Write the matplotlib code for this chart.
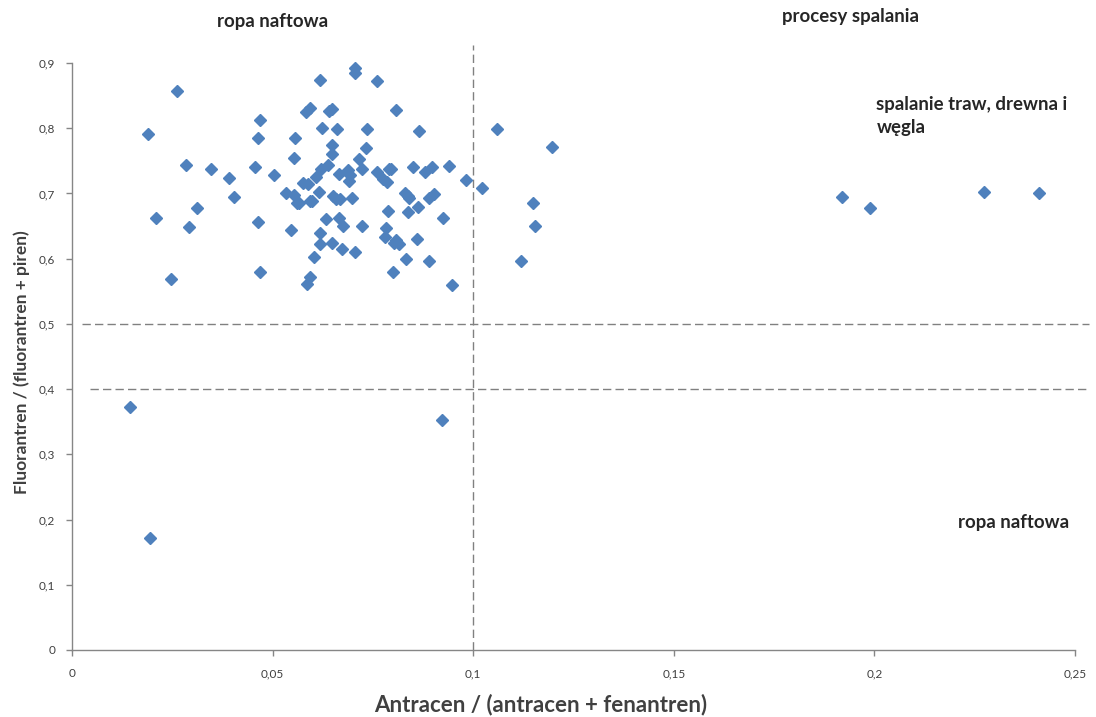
import numpy as np
import matplotlib.pyplot as plt
from matplotlib.ticker import FixedLocator

# Antracen / (antracen + fenantren)
ant_ratio = [
    0.0617, 0.0262, 0.0190, 0.0592, 0.0584, 0.0640, 0.0647, 0.0468, 0.0622, 0.0464,
    0.0556, 0.0285, 0.0346, 0.0455, 0.0553, 0.0391, 0.0503, 0.0621, 0.0609, 0.0577,
    0.0588, 0.0615, 0.0403, 0.0534, 0.0553, 0.0567, 0.0592, 0.0599, 0.0561, 0.0311,
    0.0209, 0.0292, 0.0464, 0.0545, 0.0632, 0.0619, 0.0618, 0.0603, 0.0246, 0.0468,
    0.0592, 0.0585, 0.0706, 0.0706, 0.0760, 0.0808, 0.0661, 0.0736, 0.0866, 0.1059,
    0.0648, 0.0647, 0.0734, 0.0715, 0.0639, 0.0665, 0.0689, 0.0692, 0.0690, 0.0722,
    0.0760, 0.0774, 0.0784, 0.0791, 0.0795, 0.0850, 0.0881, 0.0897, 0.0940, 0.0982,
    0.1022, 0.0650, 0.0658, 0.0667, 0.0698, 0.0829, 0.0837, 0.0841, 0.0891, 0.0903,
    0.0665, 0.0675, 0.0722, 0.0788, 0.0838, 0.0862, 0.0924, 0.0783, 0.0779, 0.0808,
    0.0802, 0.0816, 0.0861, 0.0647, 0.0672, 0.0706, 0.0833, 0.0891, 0.0799, 0.0946,
    0.1197, 0.1148, 0.1154, 0.1119, 0.1920, 0.1990, 0.2274, 0.2410, 0.0144, 0.0194,
    0.0923,
]
# Fluorantren / (fluorantren + piren)
flu_ratio = [
    0.874, 0.857, 0.791, 0.831, 0.825, 0.826, 0.830, 0.813, 0.801, 0.785,
    0.785, 0.743, 0.738, 0.741, 0.754, 0.723, 0.729, 0.738, 0.725, 0.716,
    0.715, 0.702, 0.694, 0.700, 0.698, 0.685, 0.688, 0.688, 0.685, 0.677,
    0.663, 0.648, 0.656, 0.644, 0.661, 0.639, 0.622, 0.602, 0.569, 0.579,
    0.572, 0.561, 0.893, 0.884, 0.873, 0.828, 0.799, 0.799, 0.796, 0.799,
    0.774, 0.761, 0.770, 0.753, 0.744, 0.730, 0.736, 0.729, 0.719, 0.738,
    0.733, 0.722, 0.718, 0.738, 0.737, 0.741, 0.733, 0.741, 0.742, 0.720,
    0.708, 0.696, 0.692, 0.692, 0.693, 0.700, 0.696, 0.693, 0.693, 0.699,
    0.662, 0.650, 0.650, 0.673, 0.671, 0.679, 0.662, 0.647, 0.633, 0.629,
    0.624, 0.623, 0.630, 0.624, 0.615, 0.610, 0.599, 0.596, 0.579, 0.560,
    0.771, 0.685, 0.650, 0.597, 0.695, 0.678, 0.702, 0.701, 0.373, 0.172,
    0.353,
]

x_ticks = [0, 0.05, 0.1, 0.15, 0.2, 0.25]
x_tick_labels = ["0", "0,05", "0,1", "0,15", "0,2", "0,25"]
y_ticks = [0, 0.1, 0.2, 0.3, 0.4, 0.5, 0.6, 0.7, 0.8, 0.9]
y_tick_labels = ["0", "0,1", "0,2", "0,3", "0,4", "0,5", "0,6", "0,7", "0,8", "0,9"]

plt.rcParams['font.family'] = ['Lato', 'DejaVu Sans']

W, H = 1096, 717
fig = plt.figure(figsize=(W / 100, H / 100), dpi=100)
ax = fig.add_axes([72/W, 1 - 650/H, (1075 - 72)/W, (650 - 63)/H])

grey = "#868686"
dash = "#808080"

# dividing lines (drawn like shapes, partly outside the plot area)
ax.plot([0.1, 0.1], [0, 0.928], color=dash, lw=1, ls=(0, (6, 3)), clip_on=False, zorder=1)
ax.plot([0.0025, 0.2535], [0.5, 0.5], color=dash, lw=1, ls=(0, (6, 3)), clip_on=False, zorder=1)
ax.plot([0.0045, 0.2535], [0.4, 0.4], color=dash, lw=1, ls=(0, (6, 3)), clip_on=False, zorder=1)

ax.plot(ant_ratio, flu_ratio, ls="none", marker="D", ms=6, color="#4F81BD",
        mec="#4F81BD", zorder=3, clip_on=False)

ax.set_xlim(0, 0.25)
ax.set_ylim(0, 0.9)
ax.xaxis.set_major_locator(FixedLocator(x_ticks))
ax.yaxis.set_major_locator(FixedLocator(y_ticks))
ax.set_xticklabels(x_tick_labels)
ax.set_yticklabels(y_tick_labels)

for s in ["top", "right"]:
    ax.spines[s].set_visible(False)
for s in ["left", "bottom"]:
    ax.spines[s].set_color(grey)
    ax.spines[s].set_linewidth(1)
ax.tick_params(axis="both", colors=grey, length=4, width=1, direction="out",
               labelsize=8.5, labelcolor="#404040")
ax.tick_params(axis="x", pad=9)
ax.tick_params(axis="y", pad=8)

# axis titles placed like in the source chart
fig.text(541/W, 1 - 705/H, "Antracen / (antracen + fenantren)", fontsize=16,
         fontweight="bold", color="#404040", ha="center", va="center")
fig.text(22/W, 1 - 362/H, "Fluorantren / (fluorantren + piren)", fontsize=12.5,
         fontweight="bold", color="#404040", ha="center", va="center", rotation=90)

tkw = dict(fontsize=13.4, fontweight="bold", color="#262626", clip_on=False)
ax.text(0.05, 0.963, "ropa naftowa", ha="center", va="center", **tkw)
ax.text(0.194, 0.971, "procesy spalania", ha="center", va="center", **tkw)
ax.text(0.2005, 0.819, "spalanie traw, drewna i\nwęgla", ha="left", va="center",
        linespacing=1.45, **tkw)
ax.text(0.2346, 0.196, "ropa naftowa", ha="center", va="center", **tkw)

plt.savefig("out.png", dpi=100)
